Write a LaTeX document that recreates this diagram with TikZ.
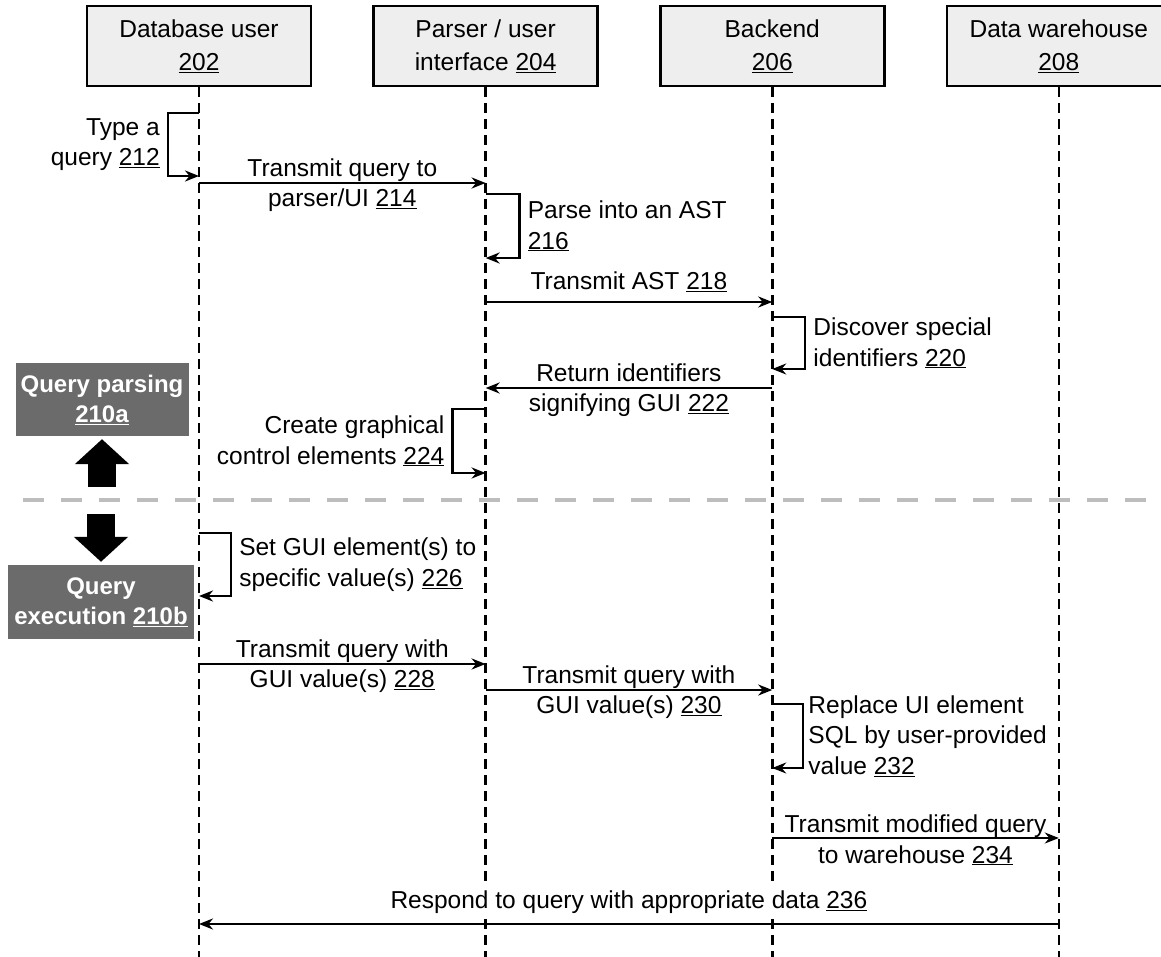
\documentclass[tikz,border=0pt]{standalone}
\usepackage{fontspec}
\setmainfont{Liberation Sans}
\usepackage{tikz}
\usetikzlibrary{positioning,arrows.meta}
\definecolor{phasegray}{HTML}{6B6B6B}
\definecolor{divgray}{HTML}{BDBDBD}
\newcommand{\refnum}[1]{\underline{#1}}

\begin{document}
\begin{tikzpicture}[x=1pt, y=-1pt, >={Stealth[length=14pt, width=11pt]},
  actor/.style={draw, line width=2.6pt, fill=gray!13, minimum width=224pt, minimum height=80pt, align=center, font=\fontsize{24.5}{33}\selectfont},
  phase/.style={fill=phasegray, text=white, align=center, inner sep=0pt, font=\fontsize{24}{30}\selectfont\bfseries},
  lifeline/.style={line width=2.6pt, dash pattern=on 10pt off 6pt},
  msg/.style={->, line width=2.5pt},
  block/.style={line width=28pt, -{Triangle[length=25pt, width=53pt]}, shorten >=3pt},
  lbl/.style={align=center, font=\fontsize{24.5}{30.5}\selectfont, inner sep=0pt, yshift=-2pt},
  toplbl/.style={above=4pt, font=\fontsize{24.5}{30.5}\selectfont, inner sep=5pt},
  side/.style={font=\fontsize{24.5}{30.5}\selectfont, inner sep=7pt}]
  \useasboundingbox (0,0) rectangle (1161,957);
  \draw[divgray, line width=4.5pt, dash pattern=on 21pt off 17pt] (23,500) -- (1161,500);

  \node[actor] (user) at (199,46) {Database user\\\refnum{202}};
  \node[actor, right=60pt of user] (parser) {Parser / user\\interface \refnum{204}};
  \node[actor, right=60pt of parser] (backend) {Backend\\\refnum{206}};
  \node[actor, right=60pt of backend] (warehouse) {Data warehouse\\\refnum{208}};
  \foreach \n in {user,parser,backend,warehouse}
    \draw[lifeline] (\n.south) -- ++(0,871);

  \node[phase, minimum width=173pt, minimum height=73pt] (parsing) at (102,399.5) {Query parsing\\\refnum{210a}};
  \node[phase, minimum width=186pt, minimum height=74pt] (execution) at (101,602) {Query\\execution \refnum{210b}};
  \coordinate (upbase) at (parsing.south |- 0,487);
  \coordinate (downbase) at (execution.north |- 0,514);
  \draw[block] (upbase) -- (parsing.south);
  \draw[block] (downbase) -- (execution.north);

  \coordinate (u212a) at (user |- 0,113);
  \coordinate (u212b) at (user |- 0,176);
  \coordinate (u214) at (user |- 0,183);
  \coordinate (p214) at (parser |- 0,183);
  \coordinate (p216a) at (parser |- 0,194);
  \coordinate (p216b) at (parser |- 0,258);
  \coordinate (p218) at (parser |- 0,302);
  \coordinate (b218) at (backend |- 0,302);
  \coordinate (b220a) at (backend |- 0,317);
  \coordinate (b220b) at (backend |- 0,369);
  \coordinate (b222) at (backend |- 0,388);
  \coordinate (p222) at (parser |- 0,388);
  \coordinate (p224a) at (parser |- 0,409);
  \coordinate (p224b) at (parser |- 0,473);
  \coordinate (u226a) at (user |- 0,533);
  \coordinate (u226b) at (user |- 0,596);
  \coordinate (u228) at (user |- 0,664);
  \coordinate (p228) at (parser |- 0,664);
  \coordinate (p230) at (parser |- 0,690);
  \coordinate (b230) at (backend |- 0,690);
  \coordinate (b232a) at (backend |- 0,704);
  \coordinate (b232b) at (backend |- 0,768);
  \coordinate (b234) at (backend |- 0,838);
  \coordinate (w234) at (warehouse |- 0,838);
  \coordinate (w236) at (warehouse |- 0,924);
  \coordinate (u236) at (user |- 0,924);

  \draw[msg] (u212a) -- ++(-31,0) |- node[side, pos=0.25, left, align=right] {Type a\\query \refnum{212}} (u212b);
  \draw[msg] (u214) -- node[lbl] {Transmit query to\\parser/UI \refnum{214}} (p214);
  \draw[msg] (p216a) -- ++(34,0) |- node[side, pos=0.25, right, align=left] {Parse into an AST\\\refnum{216}} (p216b);
  \draw[msg] (p218) -- node[toplbl] {Transmit AST \refnum{218}} (b218);
  \draw[msg] (b220a) -- ++(33,0) |- node[side, pos=0.25, right, align=left] {Discover special\\identifiers \refnum{220}} (b220b);
  \draw[msg] (b222) -- node[lbl] {Return identifiers\\signifying GUI \refnum{222}} (p222);
  \draw[msg] (p224a) -- ++(-33,0) |- node[side, pos=0.25, left, align=right] {Create graphical\\control elements \refnum{224}} (p224b);
  \draw[msg] (u226a) -- ++(32,0) |- node[side, pos=0.25, right, align=left] {Set GUI element(s) to\\specific value(s) \refnum{226}} (u226b);
  \draw[msg] (u228) -- node[lbl] {Transmit query with\\GUI value(s) \refnum{228}} (p228);
  \draw[msg] (p230) -- node[lbl] {Transmit query with\\GUI value(s) \refnum{230}} (b230);
  \draw[msg] (b232a) -- ++(31,0) |- node[side, pos=0.25, right, align=left, inner sep=4pt] {Replace UI element\\SQL by user-provided\\value \refnum{232}} (b232b);
  \draw[msg] (b234) -- node[lbl] {Transmit modified query\\to warehouse \refnum{234}} (w234);
  \draw[msg] (w236) -- node[toplbl, fill=white] {Respond to query with appropriate data \refnum{236}} (u236);
\end{tikzpicture}
\end{document}
